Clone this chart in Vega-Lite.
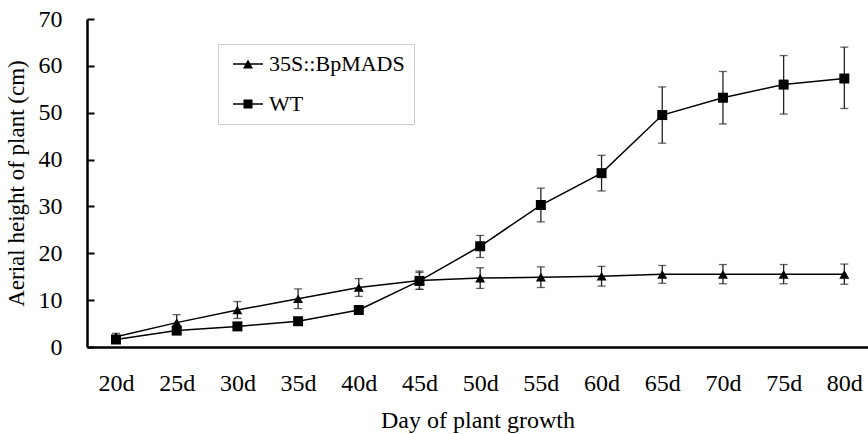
{
  "$schema": "https://vega.github.io/schema/vega-lite/v6.json",
  "width": 781,
  "height": 328,
  "autosize": "none",
  "padding": {"left": 87, "top": 19, "right": 0, "bottom": 87},
  "background": "white",
  "config": {
    "view": {"stroke": null},
    "font": "Liberation Serif",
    "axis": {"labelFont": "Liberation Serif", "titleFont": "Liberation Serif", "labelFontSize": 24, "titleFontSize": 23, "labelColor": "black", "titleColor": "black", "titleFontWeight": "normal", "grid": false, "domainColor": "black", "tickColor": "black"}
  },
  "data": {
    "values": [
      {"series": "35S::BpMADS", "day": 20, "mean": 2.2, "low": 1.5, "high": 2.9},
      {"series": "35S::BpMADS", "day": 25, "mean": 5.2, "low": 3.5, "high": 6.9},
      {"series": "35S::BpMADS", "day": 30, "mean": 7.9, "low": 6.1, "high": 9.7},
      {"series": "35S::BpMADS", "day": 35, "mean": 10.3, "low": 8.2, "high": 12.4},
      {"series": "35S::BpMADS", "day": 40, "mean": 12.7, "low": 10.8, "high": 14.6},
      {"series": "35S::BpMADS", "day": 45, "mean": 14.2, "low": 12.3, "high": 16.2},
      {"series": "35S::BpMADS", "day": 50, "mean": 14.7, "low": 12.5, "high": 16.9},
      {"series": "35S::BpMADS", "day": 55, "mean": 14.9, "low": 12.7, "high": 17.1},
      {"series": "35S::BpMADS", "day": 60, "mean": 15.1, "low": 13.0, "high": 17.2},
      {"series": "35S::BpMADS", "day": 65, "mean": 15.5, "low": 13.6, "high": 17.4},
      {"series": "35S::BpMADS", "day": 70, "mean": 15.5, "low": 13.5, "high": 17.6},
      {"series": "35S::BpMADS", "day": 75, "mean": 15.5, "low": 13.5, "high": 17.6},
      {"series": "35S::BpMADS", "day": 80, "mean": 15.5, "low": 13.4, "high": 17.7},
      {"series": "WT", "day": 20, "mean": 1.6, "low": 1.1, "high": 2.1},
      {"series": "WT", "day": 25, "mean": 3.5, "low": 2.9, "high": 4.1},
      {"series": "WT", "day": 30, "mean": 4.4, "low": 3.7, "high": 5.1},
      {"series": "WT", "day": 35, "mean": 5.5, "low": 4.9, "high": 6.1},
      {"series": "WT", "day": 40, "mean": 7.9, "low": 7.1, "high": 8.7},
      {"series": "WT", "day": 45, "mean": 14.1, "low": 12.3, "high": 15.9},
      {"series": "WT", "day": 50, "mean": 21.5, "low": 19.1, "high": 23.8},
      {"series": "WT", "day": 55, "mean": 30.3, "low": 26.7, "high": 33.9},
      {"series": "WT", "day": 60, "mean": 37.1, "low": 33.3, "high": 40.9},
      {"series": "WT", "day": 65, "mean": 49.5, "low": 43.5, "high": 55.5},
      {"series": "WT", "day": 70, "mean": 53.2, "low": 47.6, "high": 58.8},
      {"series": "WT", "day": 75, "mean": 56.0, "low": 49.7, "high": 62.2},
      {"series": "WT", "day": 80, "mean": 57.3, "low": 50.9, "high": 64.0}
    ]
  },
  "encoding": {
    "x": {
      "field": "day", "type": "quantitative",
      "scale": {"domain": [17.61, 81.95], "nice": false, "zero": false},
      "axis": {"values": [20, 25, 30, 35, 40, 45, 50, 55, 60, 65, 70, 75, 80], "labelExpr": "datum.value + 'd'", "title": "Day of plant growth", "titleFontSize": 24, "ticks": false, "tickSize": 0, "labelPadding": 24, "titlePadding": 13, "domainWidth": 2.5, "labelFlush": false}
    }
  },
  "layer": [
    {
      "mark": {"type": "rule", "color": "#222", "strokeWidth": 1.3},
      "encoding": {
        "y": {"field": "low", "type": "quantitative", "scale": {"domain": [0, 70], "nice": false}, "axis": {"values": [0, 10, 20, 30, 40, 50, 60, 70], "title": "Aerial height of plant (cm)", "tickSize": -7, "tickWidth": 2, "domainWidth": 2.5, "labelPadding": 32, "titlePadding": 10}},
        "y2": {"field": "high"},
        "detail": {"field": "series"}
      }
    },
    {
      "mark": {"type": "tick", "orient": "horizontal", "color": "#222", "thickness": 1.3, "size": 8},
      "encoding": {"y": {"field": "low", "type": "quantitative"}}
    },
    {
      "mark": {"type": "tick", "orient": "horizontal", "color": "#222", "thickness": 1.3, "size": 8},
      "encoding": {"y": {"field": "high", "type": "quantitative"}}
    },
    {
      "mark": {"type": "line", "color": "black", "strokeWidth": 1.5},
      "encoding": {
        "y": {"field": "mean", "type": "quantitative"},
        "detail": {"field": "series"}
      }
    },
    {
      "mark": {"type": "point", "filled": true, "color": "black", "opacity": 1, "size": 100},
      "encoding": {
        "y": {"field": "mean", "type": "quantitative"},
        "shape": {
          "field": "series", "type": "nominal",
          "scale": {"domain": ["35S::BpMADS", "WT"], "range": ["triangle-up", "square"]},
          "legend": null
        }
      }
    },
    {
      "mark": {"type": "point", "filled": true, "color": "black", "opacity": 1, "size": 0},
      "encoding": {
        "y": {"field": "mean", "type": "quantitative"},
        "shape": {
          "field": "series", "type": "nominal",
          "scale": {"domain": ["35S::BpMADS", "WT"], "range": ["M-0.5,-0.065H2.5V0.065H-0.5ZM1,-0.45L1.5,0.45H0.5Z", "M-0.5,-0.065H2.5V0.065H-0.5ZM0.55,-0.45H1.45V0.45H0.55Z"]},
          "legend": {
            "title": null, "orient": "none", "legendX": 131, "legendY": 25,
            "direction": "vertical",
            "strokeColor": "#cccccc", "fillColor": "white", "padding": 9,
            "symbolSize": 400, "symbolFillColor": "black", "symbolStrokeColor": "black", "symbolStrokeWidth": 0.5, "symbolOpacity": 1,
            "labelFont": "Liberation Serif", "labelFontSize": 22, "labelColor": "black", "labelOffset": 20, "rowPadding": 18,
            "labelLimit": 300
          }
        }
      }
    }
  ],
  "resolve": {"scale": {"shape": "independent"}}
}
